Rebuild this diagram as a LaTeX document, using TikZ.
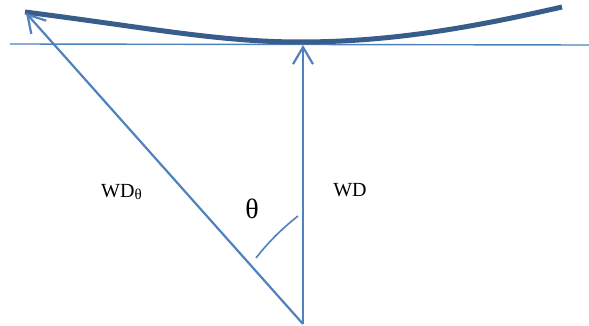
\documentclass[tikz,border=0pt]{standalone}
\usepackage{fontspec}
\setmainfont{Liberation Serif}
\usetikzlibrary{arrows.meta}
\definecolor{lblue}{HTML}{4F81BD}
\definecolor{dblue}{HTML}{385D8A}
\tikzset{
  vec/.style={draw=lblue, line width=2.2pt, -{Straight Barb[length=17pt,width=20pt,line width=2.2pt]}},
  lbl/.style={font=\fontsize{20}{24}\selectfont, inner sep=0pt, anchor=base},
}
\begin{document}
\begin{tikzpicture}[x=1pt,y=-1pt]
\useasboundingbox (0,0) rectangle (589,326);
% reference line
\coordinate (hl) at (10,44);
\coordinate (hr) at (589,45);
\draw[lblue, line width=1.4pt] (hl) -- (hr);
% deformed surface
\coordinate (c1) at (25,12);
\coordinate (c2) at (300,42);
\coordinate (c3) at (562,7);
\draw[dblue, line width=5pt] (c1) .. controls (150,28) and (220,42) .. (c2) .. controls (390,42) and (470,28) .. (c3);
% vectors
\coordinate (o) at (303,324);
\coordinate (top) at (303,45);
\coordinate (tl) at (26,13);
\draw[vec] (o) -- (top);
\draw[vec] (o) -- (tl);
% angle arc
\coordinate (a1) at (256,258);
\coordinate (a2) at (298,216);
\draw[lblue, line width=1.6pt] (a1) .. controls (270,240) and (283,228) .. (a2);
% labels
\node[lbl] (wd) at (350,196) {WD};
\node[lbl, anchor=base west] (wdt) at (101,197) {WD\raisebox{-2pt}{\fontsize{15}{18}\selectfont θ}};
\node[font=\fontsize{28}{32}\selectfont, inner sep=0pt, anchor=base] (th) at (252,218) {θ};
\end{tikzpicture}
\end{document}
